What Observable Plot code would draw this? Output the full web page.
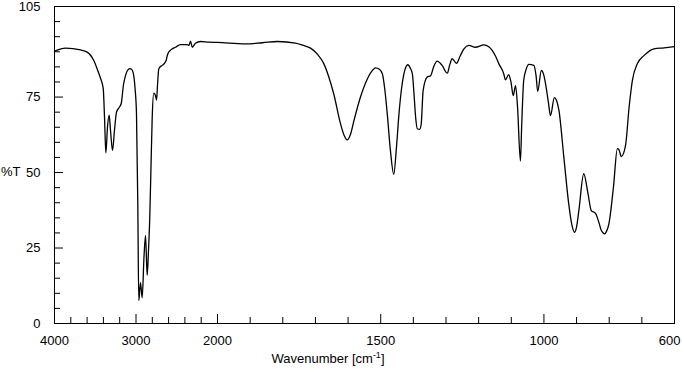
<!DOCTYPE html>
<html>
<head>
<meta charset="utf-8">
<script src="https://cdn.jsdelivr.net/npm/d3@7"></script>
<script src="https://cdn.jsdelivr.net/npm/@observablehq/plot@0.6"></script>
<style>
  html, body { margin: 0; padding: 0; background: white; }
</style>
</head>
<body>
<div id="chart"></div>
<script>
// Wavenumber (cm-1) and transmittance (%T)
const wavenumber = [
  4000, 3865, 3681, 3599, 3518, 3472, 3436, 3402, 3386, 3370, 3350, 3329, 3313, 3288, 3264, 3239,
  3211, 3182, 3154, 3129, 3105, 3076, 3055, 3034, 3012, 2994, 2978, 2966, 2945, 2924, 2902, 2883,
  2863, 2847, 2831, 2816, 2801, 2782, 2761, 2748, 2736, 2720, 2679, 2650, 2632, 2610, 2565, 2515,
  2454, 2372, 2352, 2331, 2310, 2270, 2209, 2110, 2000,
  1914, 1862, 1816, 1761, 1737, 1715, 1694, 1674, 1660, 1644, 1623, 1612, 1603, 1593, 1582, 1562,
  1541, 1528, 1516, 1504, 1495, 1488, 1480, 1470, 1460, 1452, 1444, 1436, 1429, 1417, 1409, 1403,
  1398, 1393, 1388, 1381, 1376, 1370, 1358, 1347, 1338, 1327, 1312, 1296, 1289, 1281, 1268, 1257,
  1245, 1230, 1210, 1184, 1169, 1158, 1148, 1138, 1123, 1118, 1108, 1101, 1094, 1087, 1081, 1072,
  1068, 1062, 1055, 1046, 1031, 1024, 1019, 1008, 1001, 995, 986, 980, 968, 962, 954, 939,
  924, 915, 906, 900, 893, 878, 865, 855, 842, 832, 824, 814, 808, 801, 787, 775,
  770, 763, 750, 739, 729, 714, 693, 663, 632, 601
];
const transmittance = [
  90.2, 91.2, 90.6, 89.9, 87.1, 84.0, 81.3, 77.8, 68.0, 56.5, 65.0, 69.0, 64.0, 57.3, 64.0, 70.0,
  71.4, 72.8, 79.0, 82.1, 83.8, 84.4, 84.2, 83.0, 78.0, 69.5, 40.0, 7.6, 13.5, 8.5, 22.0, 29.1,
  16.0, 24.0, 35.2, 52.0, 68.3, 76.3, 75.5, 74.0, 79.0, 84.4, 85.5, 86.2, 87.0, 89.3, 90.8, 91.5,
  92.4, 92.4, 92.1, 93.5, 91.5, 92.8, 93.4, 93.2, 93.1,
  92.6, 93.0, 93.4, 92.9, 92.1, 91.2, 89.2, 86.0, 82.0, 76.1, 66.1, 62.3, 60.8, 62.5, 67.2, 75.0,
  81.0, 83.5, 84.7, 84.2, 82.7, 78.0, 69.5, 57.0, 49.4, 58.0, 69.5, 78.0, 82.7, 85.7, 84.5, 82.7,
  76.0, 68.3, 64.5, 64.3, 66.0, 77.2, 81.6, 82.1, 85.0, 86.9, 85.5, 82.9, 85.5, 87.7, 86.2, 88.5,
  91.0, 92.1, 91.5, 92.3, 91.7, 90.4, 88.5, 86.0, 82.7, 80.7, 82.4, 80.0, 75.5, 78.8, 72.0, 53.8,
  66.0, 80.5, 84.0, 85.8, 85.5, 82.0, 76.9, 83.8, 82.5, 79.4, 73.0, 68.9, 74.8, 74.0, 70.6, 55.1,
  39.6, 33.0, 30.2, 32.0, 37.4, 49.6, 43.0, 37.4, 36.5, 33.6, 30.8, 29.7, 30.6, 33.0, 45.2, 57.9,
  57.5, 55.3, 59.0, 71.7, 80.5, 86.0, 88.8, 91.0, 91.3, 91.7
];

// Axis ticks and labels
const xLabels = [4000, 3000, 2000, 1500, 1000];
const xEndLabel = [600];
const xMajorTicks = [3000, 2000, 1500, 1000];
const xMinorTicks = [3800, 3600, 3400, 3200, 2800, 2600, 2400, 2200,
  1900, 1800, 1700, 1600, 1400, 1300, 1200, 1100, 900, 800, 700];
const yLabels = [0, 25, 50, 75, 105];
const yMajorTicks = [25, 50, 75];
const yMinorTicks = [5, 10, 15, 20, 30, 35, 40, 45, 55, 60, 65, 70, 80, 85, 90, 95, 100];

const spectrum = wavenumber.map((w, i) => ({wn: w, t: transmittance[i]}));

const W = 682, H = 376;
const mL = 54, mR = 8, mT = 6, mB = 53;
const plain = d => String(d);

const svg = Plot.plot({
  width: W,
  height: H,
  marginLeft: mL,
  marginRight: mR,
  marginTop: mT,
  marginBottom: mB,
  style: {fontFamily: "'Liberation Sans', Arial, sans-serif", fontSize: "13px", color: "black", background: "white"},
  x: {type: "linear", domain: [4000, 2000, 600], range: [mL, 217, W - mR]},
  y: {domain: [0, 105]},
  marks: [
    Plot.frame({stroke: "black", strokeWidth: 1}),
    Plot.axisX(xMajorTicks, {tickSize: -9, fill: "none", label: null, stroke: "black"}),
    Plot.axisX(xMinorTicks, {tickSize: -6, fill: "none", label: null, stroke: "black"}),
    Plot.axisX(xLabels, {tickSize: 0, tickPadding: 12, label: null, fill: "black", tickFormat: plain}),
    Plot.axisX(xEndLabel, {tickSize: 0, tickPadding: 12, label: null, fill: "black", textAnchor: "end", dx: 6, tickFormat: plain}),
    Plot.axisY(yMajorTicks, {tickSize: -9, fill: "none", label: null, stroke: "black"}),
    Plot.axisY(yMinorTicks, {tickSize: -6, fill: "none", label: null, stroke: "black"}),
    Plot.axisY(yLabels, {tickSize: 0, tickPadding: 14, label: null, fill: "black", tickFormat: plain}),
    Plot.line(spectrum, {x: "wn", y: "t", stroke: "black", strokeWidth: 1.3, curve: "monotone-x"})
  ]
});

const s = d3.select(svg);
const xl = s.append("text")
  .attr("x", 328).attr("y", 363)
  .attr("text-anchor", "middle")
  .attr("fill", "black");
xl.append("tspan").text("Wavenumber [cm");
xl.append("tspan").attr("dy", -5).attr("font-size", "9px").text("-1");
xl.append("tspan").attr("dy", 5).text("]");

s.append("text")
  .attr("x", 1).attr("y", 176)
  .attr("text-anchor", "start")
  .attr("fill", "black")
  .text("%T");

document.getElementById("chart").appendChild(svg);
</script>
</body>
</html>
